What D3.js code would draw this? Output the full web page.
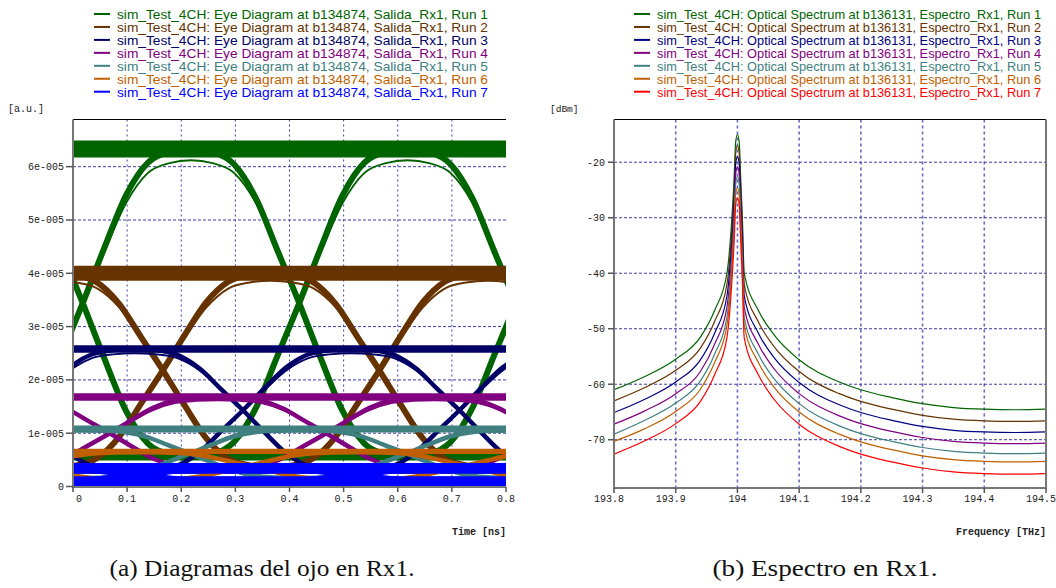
<!DOCTYPE html>
<html>
<head>
<meta charset="utf-8">
<script src="https://cdn.jsdelivr.net/npm/d3@7"></script>
<style>
  body { margin: 0; background: #fff; }
</style>
</head>
<body>
<svg id="chart" width="1056" height="588" font-family="Liberation Mono, monospace"></svg>
<script>
// ---- Eye diagram (left), values in a.u. ----
const eyeRuns = ["Run 1", "Run 2", "Run 3", "Run 4", "Run 5", "Run 6", "Run 7"];
const eyeColors = ["#006400", "#663300", "#000066", "#800080", "#408080", "#bf5f00", "#0000ff"];
const eyeHigh = [6.33e-5, 4.00e-5, 2.58e-5, 1.68e-5, 1.08e-5, 0.66e-5, 0.34e-5];
const eyeHighSpread = [0.32e-5, 0.28e-5, 0.14e-5, 0.14e-5, 0.13e-5, 0.10e-5, 0.20e-5];
const eyeLow = [0.55e-5, 0.36e-5, 0.28e-5, 0.32e-5, 0.16e-5, 0.12e-5, 0.09e-5];
const eyeLowSpread = [0.12e-5, 0.10e-5, 0.08e-5, 0.08e-5, 0.06e-5, 0.05e-5, 0.20e-5];
const eyeCrossing = [0.018, 0.166, 0.314, 0.068, 0.216, 0.325, 0.12];   // ns
const eyeIsoPeak = [6.12e-5, 3.86e-5, 2.50e-5, 1.62e-5, 1.03e-5, 0.62e-5, 0.30e-5];
const eyeBitPeriod = 0.4; // ns
// edge shape: [offset in bit periods, fraction of swing]
const eyeEdgeProfile = [[-0.5, 0], [-0.4, 0.01], [-0.3, 0.05], [-0.2, 0.16], [-0.1, 0.33], [0, 0.5],
                        [0.1, 0.68], [0.2, 0.85], [0.3, 0.955], [0.4, 0.99], [0.5, 1]];
const eyeXTicks = [0, 0.1, 0.2, 0.3, 0.4, 0.5, 0.6, 0.7, 0.8];
const eyeYTicks = [0, 1e-5, 2e-5, 3e-5, 4e-5, 5e-5, 6e-5];

// ---- Optical spectrum (right), dBm ----
const specRuns = ["Run 1", "Run 2", "Run 3", "Run 4", "Run 5", "Run 6", "Run 7"];
const specColors = ["#006400", "#663300", "#000080", "#800080", "#408080", "#bf5f00", "#ff0000"];
const specFreq = [193.8, 193.85, 193.9, 193.94, 193.963, 193.983, 193.991, 193.995, 193.997, 194.0,
                  194.003, 194.005, 194.008, 194.011, 194.034, 194.06, 194.1, 194.165, 194.2, 194.25,
                  194.3, 194.35, 194.4, 194.45, 194.5];
const specRun1 = [-61.0, -58.6, -55.5, -51.5, -46.7, -40.0, -30.0, -22.0, -16.5, -15.0, -16.5, -22.0, -30.0,
                  -40.0, -46.7, -51.2, -55.6, -59.6, -61.0, -62.4, -63.5, -64.2, -64.5, -64.6, -64.5];
const specRun2 = [-63.0, -60.6, -57.5, -53.5, -48.7, -42.0, -32.0, -24.0, -18.5, -17.0, -18.5, -24.0, -32.0,
                  -42.0, -48.8, -53.3, -57.7, -61.7, -63.1, -64.5, -65.6, -66.3, -66.6, -66.7, -66.6];
const specRun3 = [-65.1, -62.7, -59.6, -55.6, -50.8, -44.1, -34.0, -26.0, -20.5, -19.0, -20.5, -26.0, -34.0,
                  -44.1, -50.8, -55.3, -59.7, -63.7, -65.1, -66.5, -67.6, -68.3, -68.6, -68.7, -68.6];
const specRun4 = [-67.2, -64.8, -61.7, -57.7, -52.8, -46.1, -36.0, -27.9, -22.3, -20.8, -22.3, -27.9, -36.0,
                  -46.1, -52.8, -57.3, -61.7, -65.7, -67.1, -68.5, -69.6, -70.3, -70.6, -70.7, -70.6];
const specRun5 = [-69.0, -66.5, -63.4, -59.4, -54.6, -47.9, -37.8, -29.7, -24.1, -22.6, -24.1, -29.7, -37.8,
                  -47.9, -54.6, -59.1, -63.5, -67.5, -68.9, -70.3, -71.4, -72.1, -72.4, -72.5, -72.4];
const specRun6 = [-70.3, -68.0, -64.9, -60.9, -56.1, -49.4, -39.4, -31.5, -26.1, -24.6, -26.1, -31.5, -39.4,
                  -49.4, -56.1, -60.6, -65.0, -69.0, -70.4, -71.8, -72.9, -73.6, -73.9, -74.0, -73.9];
const specRun7 = [-72.6, -70.2, -67.1, -63.1, -58.3, -51.6, -41.5, -33.4, -27.9, -26.4, -27.9, -33.4, -41.5,
                  -51.6, -58.3, -62.8, -67.2, -71.2, -72.6, -74.0, -75.1, -75.8, -76.1, -76.2, -76.1];
const specValues = [specRun1, specRun2, specRun3, specRun4, specRun5, specRun6, specRun7];
const specXTicks = [193.8, 193.9, 194.0, 194.1, 194.2, 194.3, 194.4, 194.5];
const specYTicks = [-70, -60, -50, -40, -30, -20];

const svg = d3.select("#chart");
const gridColor = "#3c3ca8";

// ---------- left panel ----------
const L = { left: 73, right: 506, top: 119.5, bottom: 487 };
const ex = d3.scaleLinear().domain([0, 0.8]).range([L.left, L.right]);
const ey = d3.scaleLinear().domain([0, 6.885e-5]).range([486.5, L.top]);

svg.append("clipPath").attr("id", "clipL")
  .append("rect").attr("x", L.left).attr("y", L.top)
  .attr("width", L.right - L.left).attr("height", L.bottom - L.top);

// grid
const gl = svg.append("g");
gl.selectAll(".vg").data(eyeXTicks.slice(1, -1)).enter().append("line")
  .attr("x1", d => ex(d)).attr("x2", d => ex(d)).attr("y1", L.top).attr("y2", L.bottom)
  .attr("stroke", gridColor).attr("stroke-width", 1).attr("stroke-dasharray", "2,3");
gl.selectAll(".hg").data(eyeYTicks.slice(1)).enter().append("line")
  .attr("x1", L.left).attr("x2", L.right).attr("y1", d => ey(d)).attr("y2", d => ey(d))
  .attr("stroke", gridColor).attr("stroke-width", 1).attr("stroke-dasharray", "3,2");

const eyeG = svg.append("g").attr("clip-path", "url(#clipL)");
const eyeLine = d3.line().x(d => ex(d[0])).y(d => ey(d[1])).curve(d3.curveMonotoneX);
const px = v => ey(0) - ey(v);

eyeRuns.forEach((run, i) => {
  const g = eyeG.append("g");
  const hi = eyeHigh[i], lo = eyeLow[i], c0 = eyeCrossing[i], T = eyeBitPeriod;
  const mid = (hi + lo) / 2;
  const color = eyeColors[i];
  const edgeW = i < 2 ? 6 : (i === 6 ? 6 : 4.5);
  const crossings = d3.range(-2, 4).map(k => c0 + k * T).filter(c => c - T / 2 < 0.85 && c + T / 2 > -0.05);

  // rails
  [[hi, eyeHighSpread[i]], [lo, eyeLowSpread[i]]].forEach(([lvl, sp]) => {
    g.append("line").attr("x1", L.left).attr("x2", L.right + 10)
      .attr("y1", ey(lvl)).attr("y2", ey(lvl))
      .attr("stroke", color).attr("stroke-width", Math.max(3, px(sp)));
  });

  crossings.forEach(c => {
    // rising and falling edges
    const rise = eyeEdgeProfile.map(p => [c + p[0] * T, lo + p[1] * (hi - lo)]);
    const fall = eyeEdgeProfile.map(p => [c + p[0] * T, hi - p[1] * (hi - lo)]);
    g.append("path").attr("d", eyeLine(rise)).attr("fill", "none")
      .attr("stroke", color).attr("stroke-width", edgeW);
    g.append("path").attr("d", eyeLine(fall)).attr("fill", "none")
      .attr("stroke", color).attr("stroke-width", edgeW);
    // isolated one: rise then fall without quite reaching the rail
    const half = eyeEdgeProfile.filter(p => p[0] >= 0);
    const isoV = p => mid + (p[1] - 0.5) * 2 * (eyeIsoPeak[i] - mid);
    const iso = half.map(p => [c + p[0] * T, isoV(p)])
      .concat(half.slice(0, -1).reverse().map(p => [c + T - p[0] * T, isoV(p)]));
    g.append("path").attr("d", eyeLine(iso)).attr("fill", "none")
      .attr("stroke", color).attr("stroke-width", 2);
  });
});

// frame and axes
svg.append("line").attr("x1", L.left).attr("x2", L.right).attr("y1", L.top).attr("y2", L.top)
  .attr("stroke", "#000").attr("stroke-width", 1);
svg.append("line").attr("x1", L.left).attr("x2", L.left).attr("y1", L.top).attr("y2", L.bottom + 1)
  .attr("stroke", "#777").attr("stroke-width", 2);
svg.append("line").attr("x1", L.left).attr("x2", L.right).attr("y1", L.bottom).attr("y2", L.bottom)
  .attr("stroke", "#777").attr("stroke-width", 2);

const fmtAU = v => v === 0 ? "0" : Math.round(v * 1e5) + "e-005";
const ly = svg.append("g");
eyeYTicks.forEach(v => {
  ly.append("line").attr("x1", L.left - 7).attr("x2", L.left).attr("y1", ey(v)).attr("y2", ey(v))
    .attr("stroke", "#555").attr("stroke-width", 1.5);
  ly.append("text").attr("x", L.left - 9).attr("y", ey(v)).attr("dy", "0.35em")
    .attr("text-anchor", "end").attr("font-size", 10).attr("fill", "#222").text(fmtAU(v));
});
const lx = svg.append("g");
eyeXTicks.forEach(v => {
  lx.append("line").attr("x1", ex(v)).attr("x2", ex(v)).attr("y1", L.bottom).attr("y2", L.bottom + 5)
    .attr("stroke", "#555").attr("stroke-width", 1.5);
  lx.append("text").attr("x", ex(v) + (v === 0 ? 6 : 0)).attr("y", 498).attr("dy", "0.35em")
    .attr("text-anchor", "middle").attr("font-size", 10).attr("fill", "#222").text(v);
});
svg.append("text").attr("x", 8).attr("y", 108).attr("dy", "0.35em").attr("font-size", 10)
  .attr("fill", "#222").text("[a.u.]");
svg.append("text").attr("x", L.right).attr("y", 531).attr("dy", "0.35em").attr("font-size", 10)
  .attr("text-anchor", "end").attr("font-weight", "bold").attr("fill", "#222").text("Time [ns]");

// ---------- right panel ----------
const R = { left: 614, right: 1046, top: 119.5, bottom: 488 };
const sx = d3.scaleLinear().domain([193.8, 194.5]).range([R.left, R.right]);
const sy = d3.scaleLinear().domain([-78.7, -12.3]).range([R.bottom, R.top]);

svg.append("clipPath").attr("id", "clipR")
  .append("rect").attr("x", R.left).attr("y", R.top)
  .attr("width", R.right - R.left).attr("height", R.bottom - R.top);

const gr = svg.append("g");
gr.selectAll(".vg").data(specXTicks.slice(1, -1)).enter().append("line")
  .attr("x1", d => sx(d)).attr("x2", d => sx(d)).attr("y1", R.top).attr("y2", R.bottom)
  .attr("stroke", "#6a6ac0").attr("stroke-width", 1.6).attr("stroke-dasharray", "3,3");
gr.selectAll(".hg").data(specYTicks).enter().append("line")
  .attr("x1", R.left).attr("x2", R.right).attr("y1", d => sy(d)).attr("y2", d => sy(d))
  .attr("stroke", gridColor).attr("stroke-width", 1).attr("stroke-dasharray", "3,2");

const specLine = d3.line().x((d, j) => sx(specFreq[j])).y(d => sy(d)).curve(d3.curveMonotoneX);
const specG = svg.append("g").attr("clip-path", "url(#clipR)");
specValues.forEach((vals, i) => {
  specG.append("path").attr("d", specLine(vals)).attr("fill", "none")
    .attr("stroke", specColors[i]).attr("stroke-width", 1.2);
});

svg.append("line").attr("x1", R.left).attr("x2", R.right).attr("y1", R.top).attr("y2", R.top)
  .attr("stroke", "#000").attr("stroke-width", 1);
svg.append("line").attr("x1", R.left).attr("x2", R.left).attr("y1", R.top).attr("y2", R.bottom + 1)
  .attr("stroke", "#777").attr("stroke-width", 2);
svg.append("line").attr("x1", R.left).attr("x2", R.right + 1).attr("y1", R.bottom).attr("y2", R.bottom)
  .attr("stroke", "#777").attr("stroke-width", 2);
svg.append("line").attr("x1", R.right).attr("x2", R.right).attr("y1", R.top).attr("y2", R.bottom)
  .attr("stroke", "#777").attr("stroke-width", 2);

const ry = svg.append("g");
specYTicks.forEach(v => {
  ry.append("line").attr("x1", R.left - 6).attr("x2", R.left).attr("y1", sy(v)).attr("y2", sy(v))
    .attr("stroke", "#555").attr("stroke-width", 1.5);
  ry.append("text").attr("x", R.left - 9).attr("y", sy(v)).attr("dy", "0.35em")
    .attr("text-anchor", "end").attr("font-size", 10).attr("fill", "#222").text(v);
});
const rx = svg.append("g");
specXTicks.forEach(v => {
  rx.append("line").attr("x1", sx(v)).attr("x2", sx(v)).attr("y1", R.bottom).attr("y2", R.bottom + 5)
    .attr("stroke", "#555").attr("stroke-width", 1.5);
  rx.append("text").attr("x", sx(v) - (Number.isInteger(v) ? 0 : 5)).attr("y", 498).attr("dy", "0.35em")
    .attr("text-anchor", "middle").attr("font-size", 10).attr("fill", "#222").text(v);
});
svg.append("text").attr("x", 550).attr("y", 109).attr("dy", "0.35em").attr("font-size", 9.5)
  .attr("fill", "#222").text("[dBm]");
svg.append("text").attr("x", R.right).attr("y", 531).attr("dy", "0.35em").attr("font-size", 10)
  .attr("text-anchor", "end").attr("font-weight", "bold").attr("fill", "#222").text("Frequency [THz]");

// ---------- legends ----------
function legend(x0, labels, colors, prefix, width) {
  const g = svg.append("g");
  labels.forEach((lab, i) => {
    const y = 14 + i * 12.95;
    g.append("line").attr("x1", x0).attr("x2", x0 + 16).attr("y1", y).attr("y2", y)
      .attr("stroke", colors[i]).attr("stroke-width", 2);
    g.append("text").attr("x", x0 + 23).attr("y", y + 0.5).attr("dy", "0.35em")
      .attr("font-family", "Liberation Sans, Arial, sans-serif").attr("font-size", 13)
      .attr("textLength", width).attr("lengthAdjust", "spacingAndGlyphs")
      .attr("fill", colors[i]).text(prefix + lab);
  });
}
legend(94, eyeRuns, eyeColors, "sim_Test_4CH: Eye Diagram at b134874, Salida_Rx1, ", 371);
legend(634, specRuns, specColors, "sim_Test_4CH: Optical Spectrum at b136131, Espectro_Rx1, ", 384);

// ---------- captions ----------
svg.append("text").attr("x", 262).attr("y", 568).attr("dy", "0.35em").attr("text-anchor", "middle")
  .attr("font-family", "Liberation Serif, serif").attr("font-size", 24).attr("fill", "#111")
  .attr("textLength", 305).attr("lengthAdjust", "spacingAndGlyphs")
  .text("(a) Diagramas del ojo en Rx1.");
svg.append("text").attr("x", 825).attr("y", 568).attr("dy", "0.35em").attr("text-anchor", "middle")
  .attr("font-family", "Liberation Serif, serif").attr("font-size", 24).attr("fill", "#111")
  .attr("textLength", 225).attr("lengthAdjust", "spacingAndGlyphs")
  .text("(b) Espectro en Rx1.");
</script>
</body>
</html>
